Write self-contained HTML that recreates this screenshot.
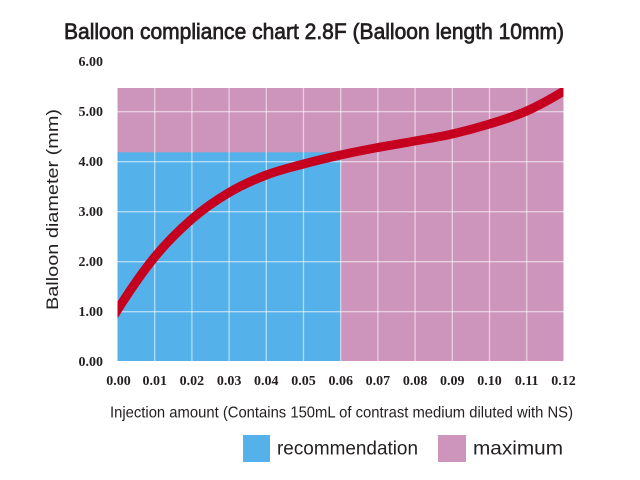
<!DOCTYPE html>
<html><head><meta charset="utf-8"><style>
html,body{margin:0;padding:0;background:#fff;}
svg{display:block;}
</style></head><body>
<svg width="640" height="480" viewBox="0 0 640 480" xmlns="http://www.w3.org/2000/svg">
<defs><clipPath id="pc"><rect x="117.5" y="88" width="446" height="273"/></clipPath></defs>
<text x="64" y="39" font-family="Liberation Sans, sans-serif" font-size="22" fill="#231f20" stroke="#231f20" stroke-width="0.7" textLength="500" lengthAdjust="spacingAndGlyphs">Balloon compliance chart 2.8F (Balloon length 10mm)</text>
<rect x="117.5" y="88" width="446" height="273" fill="#cd95bb"/>
<rect x="117.5" y="152.3" width="223.2" height="208.7" fill="#55b1e9"/>
<g stroke="#ffffff" stroke-opacity="0.55" stroke-width="1.3">
<line x1="117.5" y1="111.7" x2="563.5" y2="111.7"/>
<line x1="117.5" y1="161.7" x2="563.5" y2="161.7"/>
<line x1="117.5" y1="211.7" x2="563.5" y2="211.7"/>
<line x1="117.5" y1="261.7" x2="563.5" y2="261.7"/>
<line x1="117.5" y1="311.7" x2="563.5" y2="311.7"/>
<line x1="154.7" y1="88" x2="154.7" y2="361"/>
<line x1="191.9" y1="88" x2="191.9" y2="361"/>
<line x1="229.1" y1="88" x2="229.1" y2="361"/>
<line x1="266.3" y1="88" x2="266.3" y2="361"/>
<line x1="303.5" y1="88" x2="303.5" y2="361"/>
<line x1="340.7" y1="88" x2="340.7" y2="361"/>
<line x1="377.9" y1="88" x2="377.9" y2="361"/>
<line x1="415.1" y1="88" x2="415.1" y2="361"/>
<line x1="452.3" y1="88" x2="452.3" y2="361"/>
<line x1="489.5" y1="88" x2="489.5" y2="361"/>
<line x1="526.7" y1="88" x2="526.7" y2="361"/>
</g>
<g clip-path="url(#pc)">
<path d="M110,321.9 L117.5,310
C129.9,290.3 142.3,272.2 154.7,257
C167.1,241.8 179.5,229.75 191.9,219
C204.3,208.25 216.7,199.8 229.1,192.5
C241.5,185.2 253.9,179.75 266.3,175
C278.7,170.25 291.1,167.33 303.5,164
C315.9,160.67 328.3,157.75 340.7,155
C353.1,152.25 365.5,149.83 377.9,147.5
C390.3,145.17 402.7,143.25 415.1,141
C427.5,138.75 439.9,136.83 452.3,134
C464.7,131.17 477.1,127.83 489.5,124
C501.9,120.17 514.3,116.5 526.7,111
C539.1,105.5 551.5,98.5 563.9,91
L573.5,85" fill="none" stroke="#c6001f" stroke-width="9" stroke-linecap="butt" stroke-linejoin="round"/>
</g>
<g font-family="Liberation Serif, serif" font-weight="bold" font-size="14" fill="#231f20" text-anchor="end">
<text x="103" y="66">6.00</text>
<text x="103" y="116">5.00</text>
<text x="103" y="166">4.00</text>
<text x="103" y="216">3.00</text>
<text x="103" y="266">2.00</text>
<text x="103" y="316">1.00</text>
<text x="103" y="366">0.00</text>
</g>
<g font-family="Liberation Serif, serif" font-weight="bold" font-size="14" fill="#231f20" text-anchor="middle">
<text x="118.5" y="385">0.00</text>
<text x="154.7" y="385">0.01</text>
<text x="191.9" y="385">0.02</text>
<text x="229.1" y="385">0.03</text>
<text x="266.3" y="385">0.04</text>
<text x="303.5" y="385">0.05</text>
<text x="340.7" y="385">0.06</text>
<text x="377.9" y="385">0.07</text>
<text x="415.1" y="385">0.08</text>
<text x="452.3" y="385">0.09</text>
<text x="489.5" y="385">0.10</text>
<text x="526.7" y="385">0.11</text>
<text x="563.5" y="385">0.12</text>
</g>
<text transform="translate(58,310) rotate(-90)" x="0" y="0" font-family="Liberation Sans, sans-serif" font-size="16.5" fill="#231f20" textLength="201" lengthAdjust="spacingAndGlyphs">Balloon diameter (mm)</text>
<text x="110" y="417.5" font-family="Liberation Sans, sans-serif" font-size="16" fill="#231f20" textLength="463" lengthAdjust="spacingAndGlyphs">Injection amount (Contains 150mL of contrast medium diluted with NS)</text>
<rect x="243" y="435" width="27" height="27" fill="#55b1e9"/>
<text x="277" y="454.5" font-family="Liberation Sans, sans-serif" font-size="19" fill="#231f20" textLength="141" lengthAdjust="spacingAndGlyphs">recommendation</text>
<rect x="438" y="435" width="28" height="27" fill="#cd95bb"/>
<text x="473" y="454.5" font-family="Liberation Sans, sans-serif" font-size="19" fill="#231f20" textLength="90" lengthAdjust="spacingAndGlyphs">maximum</text>
</svg>
</body></html>
